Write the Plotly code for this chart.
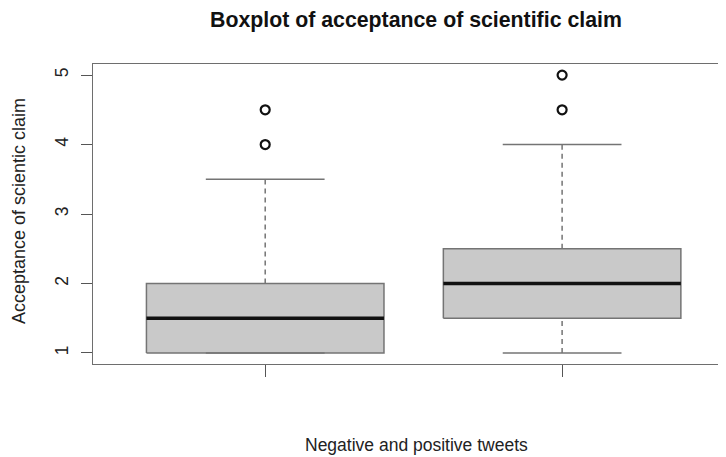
import plotly.graph_objects as go

# ---- data ----
positions = [1, 2]
q1 = [1.0, 1.5]
medians = [1.5, 2.0]
q3 = [2.0, 2.5]
lower_whisker = [1.0, 1.0]
upper_whisker = [3.5, 4.0]
outliers = [[4.0, 4.5], [4.5, 5.0]]
y_ticks = [1, 2, 3, 4, 5]

title_text = "Boxplot of acceptance of scientific claim"
x_label = "Negative and positive tweets"
y_label = "Acceptance of scientic claim"

BOX_HALF = 0.4
CAP_HALF = 0.2
FONT = "Liberation Sans, Arial, sans-serif"
GRAY = "#747474"

fig = go.Figure()

for i, p in enumerate(positions):
    # whiskers (dashed)
    fig.add_trace(go.Scatter(x=[p, p], y=[q3[i], upper_whisker[i]], mode="lines",
                             line=dict(color=GRAY, width=1.5, dash="5px,4px"),
                             showlegend=False, hoverinfo="skip"))
    fig.add_trace(go.Scatter(x=[p, p], y=[lower_whisker[i], q1[i]], mode="lines",
                             line=dict(color=GRAY, width=1.5, dash="5px,4px"),
                             showlegend=False, hoverinfo="skip"))
    # box
    fig.add_trace(go.Scatter(x=[p - BOX_HALF, p + BOX_HALF, p + BOX_HALF, p - BOX_HALF, p - BOX_HALF],
                             y=[q1[i], q1[i], q3[i], q3[i], q1[i]], mode="lines",
                             fill="toself", fillcolor="#c9c9c9",
                             line=dict(color=GRAY, width=1.5),
                             showlegend=False, hoverinfo="skip"))
    # caps
    for yv in (upper_whisker[i], lower_whisker[i]):
        fig.add_trace(go.Scatter(x=[p - CAP_HALF, p + CAP_HALF], y=[yv, yv], mode="lines",
                                 line=dict(color=GRAY, width=1.5),
                                 showlegend=False, hoverinfo="skip"))
    # median
    fig.add_trace(go.Scatter(x=[p - BOX_HALF, p + BOX_HALF], y=[medians[i], medians[i]], mode="lines",
                             line=dict(color="#111111", width=3.5),
                             showlegend=False, hoverinfo="skip"))
    # outliers
    fig.add_trace(go.Scatter(x=[p] * len(outliers[i]), y=outliers[i], mode="markers",
                             marker=dict(symbol="circle-open", size=9, color="#111111",
                                         line=dict(width=2.2, color="#111111")),
                             showlegend=False, hoverinfo="skip"))

# page body adds an 8px offset; compensate in margins/size
OFF = 8
PLOT_L, PLOT_T, PLOT_B = 93, 64, 364
W = 726 - OFF
H = 457 - OFF
PLOT_W = 726 - PLOT_L
PLOT_H = PLOT_B - PLOT_T

fig.update_layout(
    width=W, height=H,
    margin=dict(l=PLOT_L - OFF, r=0, t=PLOT_T - OFF, b=H - (PLOT_B - OFF)),
    paper_bgcolor="white", plot_bgcolor="white",
    font=dict(family=FONT, color="#222222", size=17.5),
    xaxis=dict(range=[0.42, 2.552], tickvals=positions, ticktext=["", ""],
               showticklabels=False, ticks="outside", ticklen=12, tickcolor="#555555",
               showgrid=False, zeroline=False, showline=True, mirror=True,
               linecolor="#6e6e6e", linewidth=1.3, fixedrange=True),
    yaxis=dict(range=[0.84, 5.16], tickvals=y_ticks, ticks="outside", ticklen=11,
               tickcolor="#555555", tickangle=-90, showgrid=False, zeroline=False,
               showline=True, mirror=False, linecolor="#6e6e6e", linewidth=1.3,
               tickfont=dict(size=17.5, family=FONT, color="#222222"),
               ticklabelstandoff=6),
    annotations=[
        dict(text="<b>" + title_text + "</b>", xref="paper", yref="paper",
             x=(415.5 - PLOT_L) / PLOT_W, y=1 + (PLOT_T - 20) / PLOT_H,
             xanchor="center", yanchor="middle",
             showarrow=False, font=dict(size=21.3, family=FONT, color="#111111")),
        dict(text=x_label, xref="paper", yref="paper",
             x=(416 - PLOT_L) / PLOT_W, y=-(445 - PLOT_B) / PLOT_H,
             xanchor="center", yanchor="middle",
             showarrow=False, font=dict(size=17.5, family=FONT, color="#222222")),
        dict(text=y_label, xref="paper", yref="paper", textangle=-90,
             x=-(PLOT_L - 19) / PLOT_W, y=(PLOT_B - 211) / PLOT_H,
             xanchor="center", yanchor="middle",
             showarrow=False, font=dict(size=18, family=FONT, color="#222222")),
    ],
)

fig.write_html("out.html")
